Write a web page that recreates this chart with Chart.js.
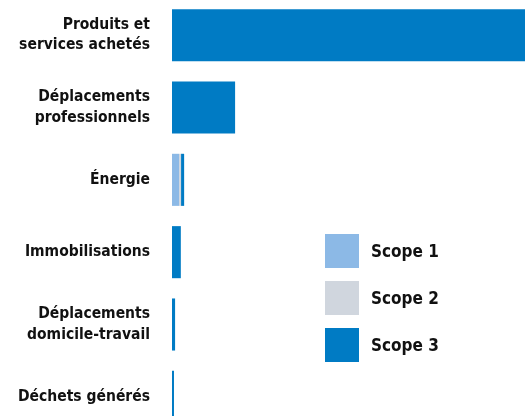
<!DOCTYPE html>
<html>
<head>
<meta charset="utf-8">
<script src="https://cdn.jsdelivr.net/npm/chart.js@4"></script>
<style>
    html, body { margin: 0; padding: 0; background: #fff; overflow: hidden; }
    body { width: 525px; height: 416px; position: relative; }
    #chartWrap { position: absolute; left: 0; top: -1px; width: 525px; height: 434px; }
    #legend { position: absolute; left: 325px; top: 234px; font: bold 17px 'DejaVu Sans Condensed', sans-serif; color: #111; }
    .legend-item { display: flex; align-items: center; height: 34px; margin-bottom: 13px; }
    .legend-box { width: 34px; height: 34px; margin-right: 12px; }
</style>
</head>
<body>
<div id="chartWrap"><canvas id="scopeChart"></canvas></div>
<div id="legend"></div>
<script>
// Emissions par poste (% du total)
const categories = [
    ['Produits et', 'services achetés'],
    ['Déplacements', 'professionnels'],
    'Énergie',
    'Immobilisations',
    ['Déplacements', 'domicile-travail'],
    'Déchets générés'
];
const scope1 = [0, 0, 1.6, 0, 0, 0];
const scope2 = [0, 0, 0.45, 0, 0, 0];
const scope3 = [82, 14.3, 0.7, 2.0, 0.7, 0.45];

const seriesLabels = ['Scope 1', 'Scope 2', 'Scope 3'];
const seriesColors = ['#8cb9e6', '#d0d6de', '#007bc4'];

const ctx = document.getElementById('scopeChart').getContext('2d');
const chart = new Chart(ctx, {
    type: 'bar',
    data: {
        labels: categories,
        datasets: [scope1, scope2, scope3].map((values, i) => ({
            label: seriesLabels[i],
            data: values,
            backgroundColor: seriesColors[i],
            borderWidth: 0,
            categoryPercentage: 1,
            barPercentage: 0.72
        }))
    },
    options: {
        indexAxis: 'y',
        responsive: true,
        maintainAspectRatio: false,
        animation: false,
        layout: { padding: 0 },
        plugins: {
            legend: { display: false },
            tooltip: { enabled: false }
        },
        scales: {
            x: {
                stacked: true,
                display: false,
                min: 0,
                max: 80
            },
            y: {
                stacked: true,
                grid: { display: false, drawTicks: false },
                border: { display: false },
                ticks: {
                    padding: 22,
                    color: '#111',
                    font: { family: "'DejaVu Sans Condensed', sans-serif", size: 15.5, weight: 'bold', lineHeight: 1.3 }
                },
                afterFit: (scale) => {
                    scale.width = 172;
                    scale.paddingTop = 0;
                    scale.paddingBottom = 0;
                }
            }
        }
    }
});

// Legend built from the datasets
const legendEl = document.getElementById('legend');
legendEl.innerHTML = chart.data.datasets.map(ds => `
    <div class="legend-item">
        <div class="legend-box" style="background:${ds.backgroundColor}"></div>
        <span>${ds.label}</span>
    </div>
`).join('');
</script>
</body>
</html>
